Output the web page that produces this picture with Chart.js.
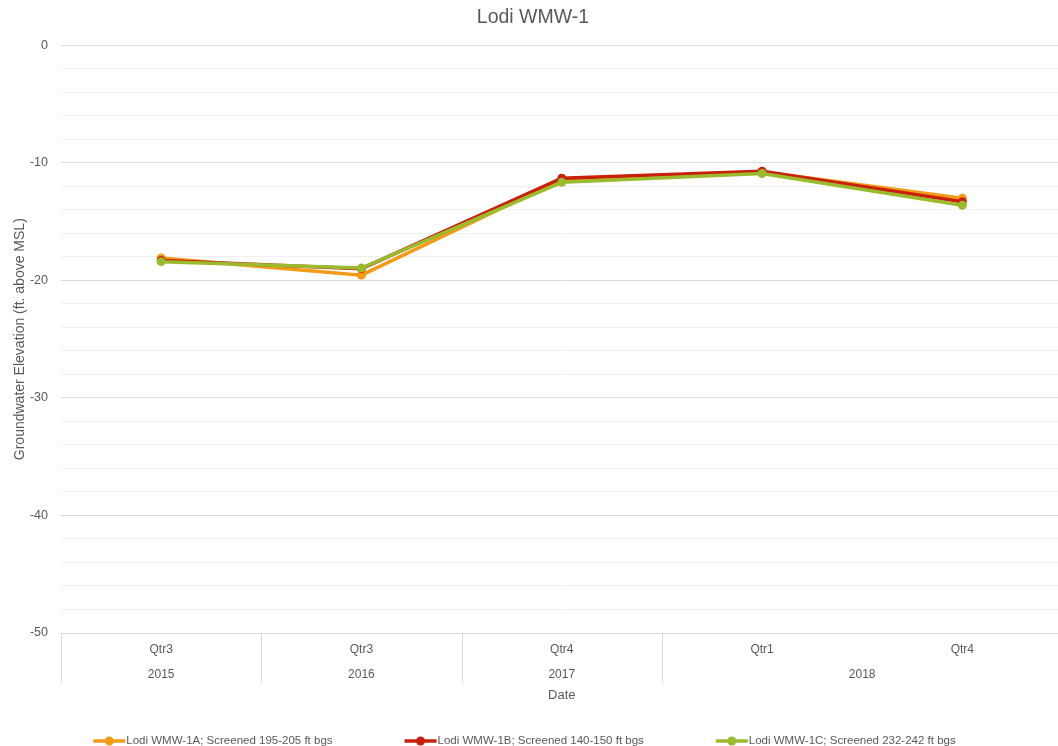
<!DOCTYPE html>
<html>
<head>
<meta charset="utf-8">
<title>Lodi WMW-1</title>
<script src="https://cdn.jsdelivr.net/npm/chart.js@4.4.0/dist/chart.umd.min.js"></script>
<style>
  html, body { margin: 0; padding: 0; background: #fff; overflow: hidden; }
  #wrap { width: 1058px; height: 746px; overflow: hidden; }
  #wrap > div { width: 1067px; height: 746px; }
</style>
</head>
<body>
<div id="wrap"><div><canvas id="chart"></canvas></div></div>
<script>
// categories (two rows: quarter over year)
const quarters = ['Qtr3', 'Qtr3', 'Qtr4', 'Qtr1', 'Qtr4'];
const years = ['2015', '2016', '2017', '2018', '2018'];

// groundwater elevation, ft above MSL
const wmw1A = [-18.1, -19.55, -11.4, -10.75, -13.0];
const wmw1B = [-18.3, -19.0, -11.3, -10.7, -13.3];
const wmw1C = [-18.4, -18.95, -11.65, -10.9, -13.6];

const seriesNames = [
  'Lodi WMW-1A; Screened 195-205 ft bgs',
  'Lodi WMW-1B; Screened 140-150 ft bgs',
  'Lodi WMW-1C; Screened 232-242 ft bgs'
];
const seriesColors = ['#F39A17', '#C8200C', '#9BBB2F'];

const TEXT = '#595959';
const FONT = '"Liberation Sans", Arial, sans-serif';

// draws the two-level date axis, its title and the legend
const dateAxisAndLegend = {
  id: 'dateAxisAndLegend',
  afterDraw(chart) {
    const ctx = chart.ctx;
    const xs = chart.scales.x;
    const area = chart.chartArea;
    const half = (xs.getPixelForValue(1) - xs.getPixelForValue(0)) / 2;
    const rowTop = area.bottom;
    const rowBottom = area.bottom + 50;

    ctx.save();
    ctx.strokeStyle = '#d9d9d9';
    ctx.lineWidth = 1;
    ctx.beginPath();
    ctx.moveTo(area.left, rowTop + 0.5);
    ctx.lineTo(area.right, rowTop + 0.5);
    // separators where the year changes
    for (let i = 0; i < years.length; i++) {
      if (i === 0 || years[i] !== years[i - 1]) {
        const x = Math.round(xs.getPixelForValue(i) - half) + 0.5;
        ctx.moveTo(x, rowTop);
        ctx.lineTo(x, rowBottom);
      }
    }
    ctx.stroke();

    ctx.fillStyle = TEXT;
    ctx.font = '12px ' + FONT;
    ctx.textAlign = 'center';
    ctx.textBaseline = 'middle';
    quarters.forEach((q, i) => ctx.fillText(q, xs.getPixelForValue(i), rowTop + 17));
    let start = 0;
    for (let i = 1; i <= years.length; i++) {
      if (i === years.length || years[i] !== years[start]) {
        const x = (xs.getPixelForValue(start) + xs.getPixelForValue(i - 1)) / 2;
        ctx.fillText(years[start], x, rowTop + 42);
        start = i;
      }
    }
    ctx.font = '13px ' + FONT;
    ctx.fillText('Date', (area.left + area.right) / 2, rowTop + 62);

    // legend
    ctx.font = '11.5px ' + FONT;
    const marker = 32, gap = 1, spacing = 72;
    const widths = seriesNames.map(n => marker + gap + ctx.measureText(n).width);
    const total = widths.reduce((a, b) => a + b, 0) + spacing * (widths.length - 1);
    let x = 524.5 - total / 2;
    const y = 741;
    ctx.textAlign = 'left';
    seriesNames.forEach((name, i) => {
      ctx.strokeStyle = seriesColors[i];
      ctx.lineWidth = 3.5;
      ctx.beginPath();
      ctx.moveTo(x, y);
      ctx.lineTo(x + marker, y);
      ctx.stroke();
      ctx.fillStyle = seriesColors[i];
      ctx.beginPath();
      ctx.arc(x + marker / 2, y, 4.5, 0, Math.PI * 2);
      ctx.fill();
      ctx.fillStyle = TEXT;
      ctx.fillText(name, x + marker + gap, y);
      x += widths[i] + spacing;
    });
    ctx.restore();
  }
};

const datasets = [wmw1A, wmw1B, wmw1C].map((values, i) => ({
  label: seriesNames[i],
  data: values,
  borderColor: seriesColors[i],
  backgroundColor: seriesColors[i],
  borderWidth: 3.5,
  pointRadius: 4.5,
  pointHoverRadius: 4.5,
  pointBorderWidth: 0,
  tension: 0,
  order: 3 - i
}));

new Chart(document.getElementById('chart'), {
  type: 'line',
  data: { labels: quarters, datasets },
  options: {
    responsive: true,
    maintainAspectRatio: false,
    animation: false,
    layout: { padding: { top: 0, right: 1, bottom: 0, left: 0 } },
    plugins: {
      legend: { display: false },
      tooltip: { enabled: false },
      title: {
        display: true,
        text: 'Lodi WMW-1',
        color: TEXT,
        font: { family: FONT, size: 19.5, weight: 'normal' },
        padding: { top: 6, bottom: 16 }
      }
    },
    scales: {
      x: {
        type: 'category',
        offset: true,
        grid: { display: false },
        border: { display: false },
        ticks: { display: false },
        afterFit(scale) { scale.height = 113; }
      },
      y: {
        min: -50,
        max: 0,
        grid: {
          drawTicks: false,
          color: ctx => (ctx.tick && ctx.tick.value % 10 === 0) ? '#d9d9d9' : '#f0f0f0'
        },
        border: { display: false },
        ticks: {
          stepSize: 2,
          padding: 13,
          color: TEXT,
          font: { family: FONT, size: 12.5 },
          callback: v => (v % 10 === 0 ? v : '')
        },
        title: {
          display: true,
          text: 'Groundwater Elevation (ft. above MSL)',
          color: TEXT,
          font: { family: FONT, size: 14 },
          padding: { top: 12, bottom: 0 }
        },
        afterFit(scale) { scale.width = 61; }
      }
    }
  },
  plugins: [dateAxisAndLegend]
});
</script>
</body>
</html>
